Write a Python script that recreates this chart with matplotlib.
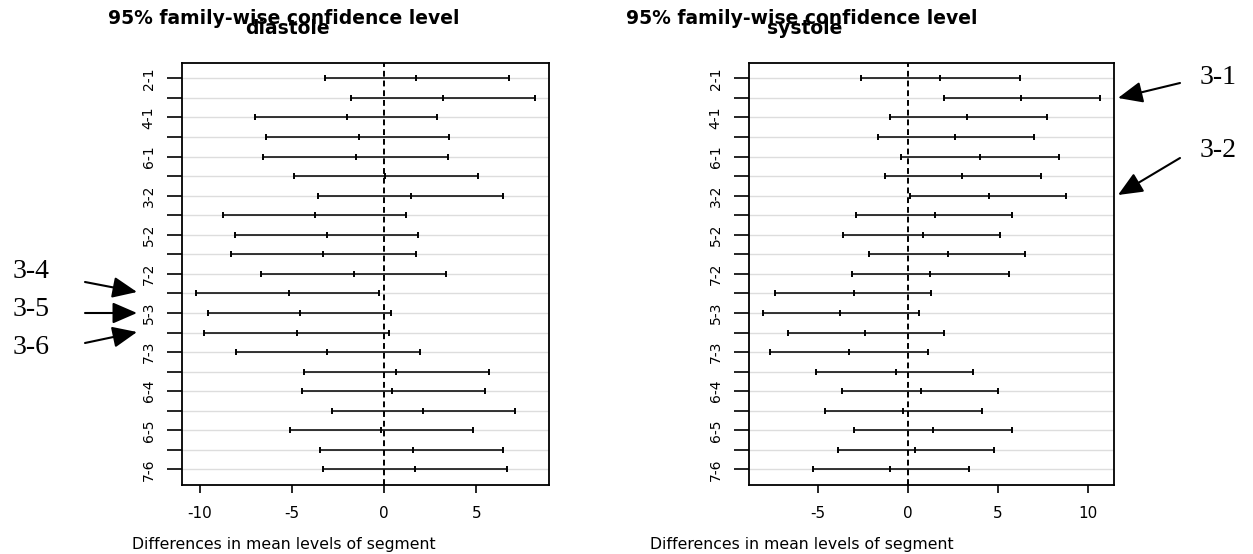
import matplotlib
matplotlib.use("Agg")
import matplotlib.pyplot as plt

W, H = 1253, 554

comparisons = ["2-1", "3-1", "4-1", "5-1", "6-1", "7-1", "3-2", "4-2", "5-2", "6-2",
               "7-2", "4-3", "5-3", "6-3", "7-3", "5-4", "6-4", "7-4", "6-5", "7-5", "7-6"]

dia_lwr = [-3.18, -1.82, -7.01, -6.38, -6.58, -4.89, -3.56, -8.74, -8.11, -8.31,
           -6.65, -10.22, -9.57, -9.77, -8.02, -4.37, -4.46, -2.82, -5.11, -3.45, -3.29]
dia_diff = [1.74, 3.18, -2.00, -1.35, -1.55, 0.07, 1.43, -3.74, -3.09, -3.29,
            -1.64, -5.18, -4.55, -4.75, -3.11, 0.63, 0.45, 2.10, -0.18, 1.54, 1.65]
dia_upr = [6.76, 8.20, 2.89, 3.54, 3.45, 5.10, 6.47, 1.19, 1.81, 1.72,
           3.38, -0.27, 0.36, 0.27, 1.92, 5.67, 5.46, 7.12, 4.83, 6.47, 6.65]

sys_lwr = [-2.6, 2.0, -1.0, -1.7, -0.4, -1.3, 0.1, -2.9, -3.6, -2.2,
           -3.1, -7.4, -8.1, -6.7, -7.7, -5.1, -3.7, -4.6, -3.0, -3.9, -5.3]
sys_diff = [1.8, 6.3, 3.3, 2.6, 4.0, 3.0, 4.5, 1.5, 0.8, 2.2,
            1.2, -3.0, -3.8, -2.4, -3.3, -0.7, 0.7, -0.3, 1.4, 0.4, -1.0]
sys_upr = [6.2, 10.7, 7.7, 7.0, 8.4, 7.4, 8.8, 5.8, 5.1, 6.5,
           5.6, 1.3, 0.6, 2.0, 1.1, 3.6, 5.0, 4.1, 5.8, 4.8, 3.4]

dia_ticks = [-10, -5, 0, 5]
sys_ticks = [-5, 0, 5, 10]

plt.rcParams["font.family"] = ["DejaVu Sans"]


def px(x, y):
    return x / W, 1 - y / H


def tukey_panel(ax, lwr, diff, upr, xticks, name, cx):
    n = len(comparisons)
    ys = list(range(n, 0, -1))
    for y in ys:
        ax.axhline(y, color="#dddddd", lw=1.0, zorder=0)
    ax.hlines(ys, lwr, upr, color="black", lw=1.1, zorder=2)
    for vals in (lwr, diff, upr):
        ax.plot(vals, ys, ls="none", marker="|", ms=5, mew=1.4, color="black", zorder=3)
    ax.axvline(0, color="black", lw=1.4, ls=(0, (3, 2)), zorder=1)

    span = max(upr) - min(lwr)
    ax.set_xlim(min(lwr) - 0.04 * span, max(upr) + 0.04 * span)
    ax.set_ylim(0.2, n + 0.8)
    ax.set_yticks(ys)
    ax.set_yticklabels([c if i % 2 == 0 else "" for i, c in enumerate(comparisons)],
                       rotation=90, va="center", fontsize=10)
    ax.tick_params(axis="y", length=11, width=1.2, pad=8)
    ax.set_xticks(xticks)
    ax.set_xticklabels([str(t) for t in xticks], fontsize=11)
    ax.tick_params(axis="x", length=6, width=1.2, pad=9)
    for s in ax.spines.values():
        s.set_linewidth(1.3)

    # two title lines overlap in the original, keep it that way
    fig.text(*px(cx, 19), "95% family-wise confidence level", ha="center", va="center",
             fontsize=13.5, fontweight="bold")
    fig.text(*px(cx + 3, 29), name, ha="center", va="center",
             fontsize=13.5, fontweight="bold")
    fig.text(*px(cx, 545), "Differences in mean levels of segment", ha="center",
             va="center", fontsize=11.3)


fig = plt.figure(figsize=(W / 100, H / 100), dpi=100)
ax1 = fig.add_axes([182 / W, 1 - 485 / H, (549 - 182) / W, (485 - 62.7) / H])
ax2 = fig.add_axes([749 / W, 1 - 485 / H, (1114 - 749) / W, (485 - 62.7) / H])

tukey_panel(ax1, dia_lwr, dia_diff, dia_upr, dia_ticks, "diastole", 284)
tukey_panel(ax2, sys_lwr, sys_diff, sys_upr, sys_ticks, "systole", 802)

# annotation arrows
arrows = [
    ("3-4", (13, 272), (85, 282), (137, 292)),
    ("3-5", (13, 310), (85, 313), (137, 313)),
    ("3-6", (13, 347), (85, 343), (137, 332)),
    ("3-1", (1200, 77), (1180, 83), (1118, 98)),
    ("3-2", (1200, 150), (1180, 158), (1118, 195)),
]
for label, tpos, start, tip in arrows:
    fig.text(*px(*tpos), label, ha="left", va="center", fontsize=20,
             family=["Liberation Serif", "DejaVu Serif"])
    fig.patches.append(matplotlib.patches.FancyArrowPatch(
        px(*start), px(*tip), transform=fig.transFigure,
        arrowstyle="-|>,head_length=1.5,head_width=0.65", mutation_scale=10,
        color="black", lw=1.5, shrinkA=0, shrinkB=0))

fig.savefig("out.png", dpi=100)
